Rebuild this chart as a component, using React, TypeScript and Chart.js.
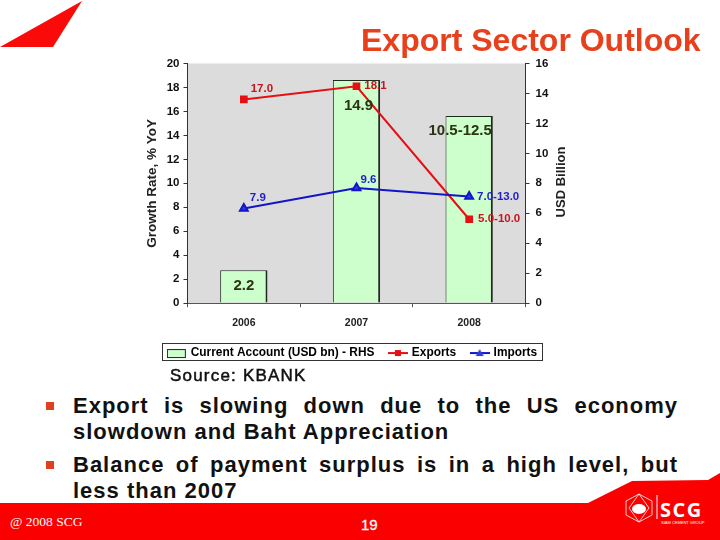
import React, { useEffect, useRef } from "react";
import { Chart, registerables } from "chart.js";

Chart.register(...registerables);

const categories = ["2006", "2007", "2008"];
const currentAccount = [2.2, 14.9, 12.5];
const exportsGrowth = [17.0, 18.1, 7.0];
const importsGrowth = [7.9, 9.6, 8.9];
const currentAccountLabels = ["2.2", "14.9", "10.5-12.5"];
const exportLabels = ["17.0", "18.1", "5.0-10.0"];
const importLabels = ["7.9", "9.6", "7.0-13.0"];
const leftAxisTitle = "Growth Rate, % YoY";
const rightAxisTitle = "USD Billion";
const seriesNames = ["Current Account (USD bn) - RHS", "Exports", "Imports"];
const slideTitle = "Export Sector Outlook";
const sourceText = "Source: KBANK";
const bulletOne = ["Export is slowing down due to the US economy", "slowdown and Baht Appreciation"];
const bulletTwo = ["Balance of payment surplus is in a high level, but", "less than 2007"];

const FONT = "'Liberation Sans', Arial, sans-serif";
const RED = "#e60f14";
const BLUE = "#1414c8";

function swatch(kind: "bar" | "square" | "triangle", color: string) {
  const c = document.createElement("canvas");
  c.width = 20;
  c.height = 12;
  const x = c.getContext("2d")!;
  if (kind === "bar") {
    x.fillStyle = "#ccffcc";
    x.strokeStyle = "#222";
    x.fillRect(0.5, 2.5, 18, 8);
    x.strokeRect(0.5, 2.5, 18, 8);
  } else {
    x.strokeStyle = color;
    x.lineWidth = 2;
    x.beginPath();
    x.moveTo(0, 6);
    x.lineTo(20, 6);
    x.stroke();
    x.fillStyle = color;
    if (kind === "square") x.fillRect(7, 3, 6, 6);
    else {
      x.fillStyle = "#2a3fe0";
      x.beginPath();
      x.moveTo(10, 2);
      x.lineTo(14, 9);
      x.lineTo(6, 9);
      x.closePath();
      x.fill();
    }
  }
  return c;
}

const backdrop = {
  id: "backdrop",
  beforeDraw(chart: any) {
    const { ctx, chartArea: a } = chart;
    ctx.save();
    ctx.fillStyle = "#dcdcdc";
    ctx.fillRect(a.left, a.top, a.right - a.left, a.bottom - a.top);
    ctx.fillStyle = "#fff";
    ctx.strokeStyle = "#333";
    ctx.lineWidth = 1;
    ctx.fillRect(162.5, 343.5, 380, 17);
    ctx.strokeRect(162.5, 343.5, 380, 17);
    ctx.restore();
  },
};

const valueLabels = {
  id: "valueLabels",
  afterDatasetsDraw(chart: any) {
    const { ctx } = chart;
    ctx.save();
    ctx.textBaseline = "middle";
    ctx.textAlign = "center";
    const put = (set: number, labels: string[], color: string, font: string, dx: number[], dy: number[]) => {
      const meta = chart.getDatasetMeta(set);
      labels.forEach((t, i) => {
        ctx.font = font;
        ctx.fillStyle = color;
        ctx.fillText(t, meta.data[i].x + dx[i], meta.data[i].y + dy[i]);
      });
    };
    put(2, currentAccountLabels, "#2a3312", `bold 15px ${FONT}`, [0, 2, -9], [16, 26, 15]);
    put(0, exportLabels, "#c8141e", `bold 11.5px ${FONT}`, [18, 19, 30], [-11, 0, 0]);
    put(1, importLabels, "#1e1ecc", `bold 11.5px ${FONT}`, [14, 12, 29], [-11, -8, 0]);
    // right-hand title reads bottom to top, which the library's own right title cannot do
    ctx.translate(561, 182);
    ctx.rotate(-Math.PI / 2);
    ctx.font = `bold 13px ${FONT}`;
    ctx.fillStyle = "#222";
    ctx.fillText(rightAxisTitle, 0, 0);
    ctx.restore();
  },
};

export default function App() {
  const ref = useRef<HTMLCanvasElement>(null);
  useEffect(() => {
    const tickFont = { family: FONT, size: 11.5, weight: "bold" as const };
    const chart = new Chart(ref.current!, {
      type: "bar",
      data: {
        labels: categories,
        datasets: [
          {
            type: "line",
            label: seriesNames[1],
            data: exportsGrowth,
            yAxisID: "y",
            borderColor: RED,
            backgroundColor: RED,
            borderWidth: 2,
            pointStyle: "rect",
            pointRadius: 4,
            tension: 0,
            order: 1,
          },
          {
            type: "line",
            label: seriesNames[2],
            data: importsGrowth,
            yAxisID: "y",
            borderColor: BLUE,
            backgroundColor: "#2a3fe0",
            borderWidth: 2,
            pointStyle: "triangle",
            pointRadius: 4.5,
            tension: 0,
            order: 0,
          },
          {
            type: "bar",
            label: seriesNames[0],
            data: currentAccount,
            yAxisID: "y1",
            backgroundColor: "#ccffcc",
            borderColor: "#1e2a1e",
            borderWidth: { top: 1, left: 1, right: 2, bottom: 0 },
            borderSkipped: false,
            categoryPercentage: 0.42,
            barPercentage: 1,
            order: 2,
          },
        ] as any,
      },
      options: {
        responsive: false,
        animation: false,
        layout: { padding: { top: 63.5, bottom: 2 } },
        scales: {
          x: {
            offset: true,
            grid: { display: true, drawOnChartArea: false, drawTicks: true, tickLength: 4, color: "#555" },
            border: { color: "#555", display: true },
            ticks: { font: { family: FONT, size: 10.5, weight: "bold" }, color: "#222", padding: 10, maxRotation: 0 },
            afterFit(s: any) { s.height = 28.5; },
          },
          y: {
            position: "left",
            min: 0,
            max: 20,
            ticks: { stepSize: 2, font: tickFont, color: "#111", padding: 4 },
            grid: { drawOnChartArea: false, tickLength: 4, color: "#333" },
            border: { color: "#333" },
            title: { display: true, text: leftAxisTitle, font: { family: FONT, size: 13.5, weight: "bold" }, color: "#222", padding: { top: 144, bottom: 0 } },
            afterFit(s: any) { s.width = 187.5; },
          },
          y1: {
            position: "right",
            min: 0,
            max: 16,
            ticks: { stepSize: 2, font: tickFont, color: "#111", padding: 6 },
            grid: { drawOnChartArea: false, tickLength: 4, color: "#333" },
            border: { color: "#333" },
            afterFit(s: any) { s.width = 180.5; },
          },
        },
        plugins: {
          tooltip: { enabled: false },
          title: { display: false },
          legend: {
            position: "bottom",
            labels: {
              usePointStyle: true,
              pointStyleWidth: 16,
              boxHeight: 12,
              padding: 15.5,
              color: "#111",
              font: { family: FONT, size: 11.9, weight: "bold" },
              generateLabels: () => [
                { text: seriesNames[0], pointStyle: swatch("bar", "#222"), lineWidth: 0, datasetIndex: 2 },
                { text: seriesNames[1], pointStyle: swatch("square", RED), lineWidth: 0, datasetIndex: 0 },
                { text: seriesNames[2], pointStyle: swatch("triangle", BLUE), lineWidth: 0, datasetIndex: 1 },
              ] as any,
            },
          },
        },
      },
      plugins: [backdrop, valueLabels],
    });
    return () => chart.destroy();
  }, []);

  const lineStyle: React.CSSProperties = {
    position: "absolute",
    left: 73,
    width: 605,
    fontFamily: FONT,
    fontWeight: "bold",
    fontSize: 22,
    lineHeight: "26px",
    letterSpacing: 1,
    color: "#111",
    whiteSpace: "nowrap",
  };
  const justified: React.CSSProperties = { ...lineStyle, whiteSpace: "normal", textAlign: "justify", textAlignLast: "justify" };
  const bulletMark = (top: number): React.CSSProperties => ({
    position: "absolute",
    left: 46,
    top,
    width: 8,
    height: 8,
    background: "#e0401c",
  });

  return (
    <div style={{ position: "fixed", left: 0, top: 0, width: 720, height: 540, background: "#fff", overflow: "hidden" }}>
      <svg width={720} height={540} style={{ position: "absolute", left: 0, top: 0 }}>
        <polygon points="0,47 82,1 53,47" fill="#fb0a0a" />
        <polygon points="0,503 588,503 632,481 708,480 720,473 720,540 0,540" fill="#fb0000" />
        <g fill="none" stroke="#fff" strokeWidth={0.8}>
          <polygon points="639,494 652,501 652,515 639,522 626,515 626,501" />
          <polygon points="639,494 649,508 639,522 629,508" />
          <line x1={657} y1={495} x2={657} y2={519} strokeWidth={1} />
        </g>
        <ellipse cx={639} cy={509} rx={7} ry={5} fill="#fff" />
      </svg>
      <canvas ref={ref} width={706} height={371} style={{ position: "absolute", left: 0, top: 0, width: 706, height: 371 }} />
      <div style={{ position: "absolute", left: 361, top: 21, fontFamily: FONT, fontWeight: "bold", fontSize: 32, lineHeight: "38px", color: "#e8401c", whiteSpace: "nowrap" }}>{slideTitle}</div>
      <div style={{ position: "absolute", left: 170, top: 366, fontFamily: FONT, fontSize: 17, lineHeight: "20px", letterSpacing: 1.2, color: "#111", WebkitTextStroke: "0.5px #111", whiteSpace: "nowrap" }}>{sourceText}</div>
      <div style={bulletMark(402)} />
      <div style={{ ...justified, top: 393 }}>{bulletOne[0]}</div>
      <div style={{ ...lineStyle, top: 419 }}>{bulletOne[1]}</div>
      <div style={bulletMark(461)} />
      <div style={{ ...justified, top: 452 }}>{bulletTwo[0]}</div>
      <div style={{ ...lineStyle, top: 478 }}>{bulletTwo[1]}</div>
      <div style={{ position: "absolute", left: 10, top: 514, fontFamily: "'Liberation Serif', serif", fontSize: 13.5, color: "#fff", whiteSpace: "nowrap" }}>@ 2008 SCG</div>
      <div style={{ position: "absolute", left: 361, top: 516, fontFamily: FONT, fontSize: 15, color: "#fff", WebkitTextStroke: "0.3px #fff" }}>19</div>
      <div style={{ position: "absolute", left: 660, top: 499, fontFamily: "'Open Sans', sans-serif", fontWeight: 700, fontSize: 20, lineHeight: "22px", letterSpacing: 1.5, color: "#fff", whiteSpace: "nowrap" }}>SCG</div>
      <div style={{ position: "absolute", left: 661, top: 520, fontFamily: FONT, fontSize: 4, lineHeight: "5px", color: "#fff", whiteSpace: "nowrap" }}>SIAM CEMENT GROUP</div>
    </div>
  );
}
